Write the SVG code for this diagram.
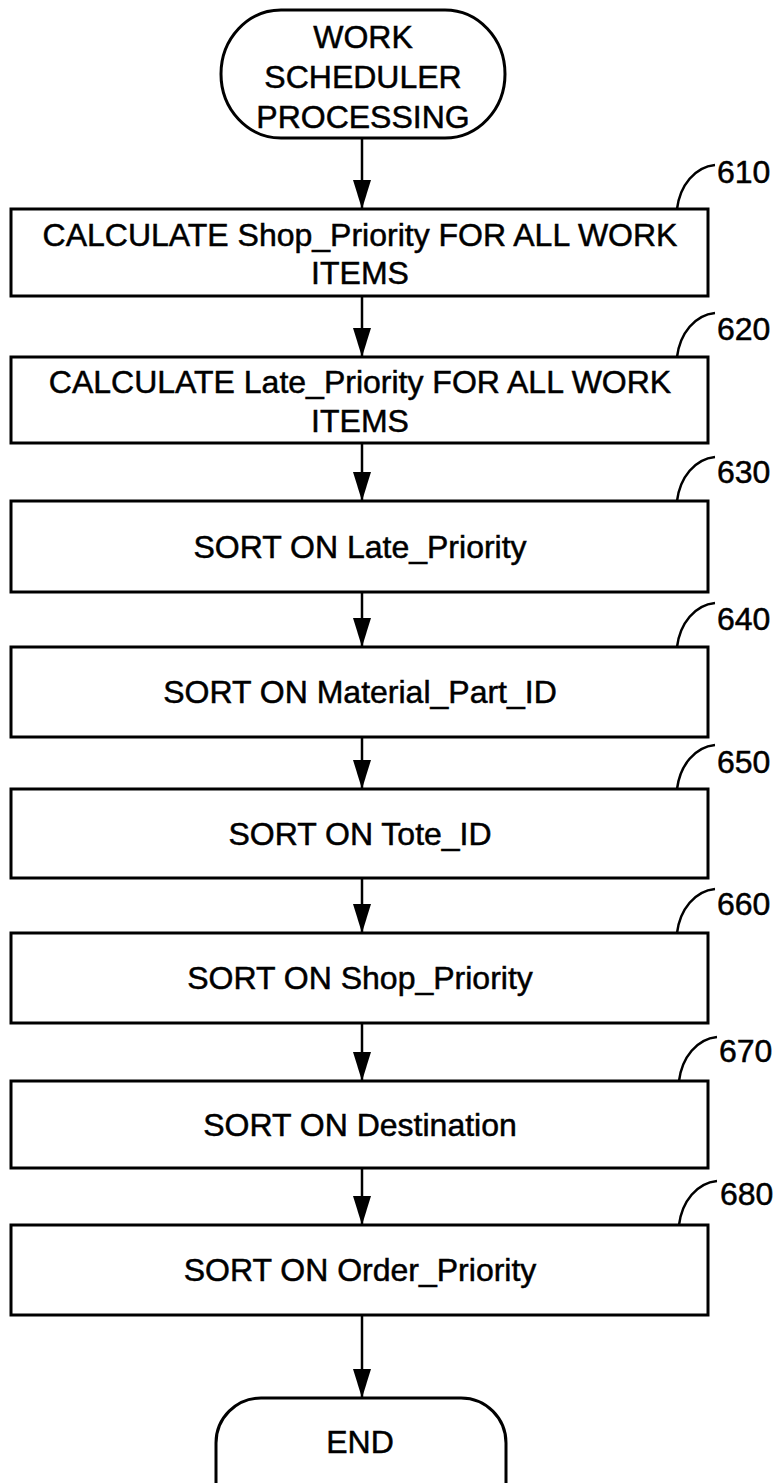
<svg xmlns="http://www.w3.org/2000/svg" width="778" height="1483" viewBox="0 0 778 1483">
<style>
.box{fill:#fff;stroke:#000;stroke-width:3}
.t{font-family:"Liberation Sans",Arial,sans-serif;font-size:32px;fill:#000;stroke:#000;stroke-width:0.5;text-anchor:middle}
.lbl{font-family:"Liberation Sans",Arial,sans-serif;font-size:32px;fill:#000;stroke:#000;stroke-width:0.5}
.ln{fill:none;stroke:#000;stroke-width:2.5}
</style>
<rect width="778" height="1483" fill="#fff"/>
<g id="connectors">
<line class="ln" x1="362" y1="138" x2="362" y2="209"/>
<path d="M353,180 L371,180 L362,209 Z"/>
<line class="ln" x1="362" y1="296" x2="362" y2="357"/>
<path d="M353,328 L371,328 L362,357 Z"/>
<line class="ln" x1="362" y1="443" x2="362" y2="501"/>
<path d="M353,472 L371,472 L362,501 Z"/>
<line class="ln" x1="362" y1="592" x2="362" y2="647"/>
<path d="M353,618 L371,618 L362,647 Z"/>
<line class="ln" x1="362" y1="737" x2="362" y2="789"/>
<path d="M353,760 L371,760 L362,789 Z"/>
<line class="ln" x1="362" y1="878" x2="362" y2="933"/>
<path d="M353,904 L371,904 L362,933 Z"/>
<line class="ln" x1="362" y1="1023" x2="362" y2="1081"/>
<path d="M353,1052 L371,1052 L362,1081 Z"/>
<line class="ln" x1="362" y1="1168" x2="362" y2="1225"/>
<path d="M353,1196 L371,1196 L362,1225 Z"/>
<line class="ln" x1="362" y1="1315" x2="362" y2="1398"/>
<path d="M353,1369 L371,1369 L362,1398 Z"/>
</g>
<g id="start">
<rect class="box" x="221" y="10" width="284" height="128" rx="60" ry="64"/>
<text class="t" x="363" y="48">WORK</text>
<text class="t" x="363" y="88">SCHEDULER</text>
<text class="t" x="363" y="128">PROCESSING</text>
</g>
<g id="n610">
<rect class="box" x="11" y="209" width="697" height="87"/>
<text class="t" x="360" y="246">CALCULATE Shop_Priority FOR ALL WORK</text>
<text class="t" x="360" y="284">ITEMS</text>
<path class="ln" d="M677,209 C680,185 695,167 715,165"/>
<text class="lbl" x="717" y="183">610</text>
</g>
<g id="n620">
<rect class="box" x="11" y="357" width="697" height="86"/>
<text class="t" x="360" y="393">CALCULATE Late_Priority FOR ALL WORK</text>
<text class="t" x="360" y="432">ITEMS</text>
<path class="ln" d="M677,357 C680,333 695,315 715,313"/>
<text class="lbl" x="717" y="340">620</text>
</g>
<g id="n630">
<rect class="box" x="11" y="501" width="697" height="91"/>
<text class="t" x="360" y="558">SORT ON Late_Priority</text>
<path class="ln" d="M677,501 C680,477 695,459 715,457"/>
<text class="lbl" x="717" y="483">630</text>
</g>
<g id="n640">
<rect class="box" x="11" y="647" width="697" height="90"/>
<text class="t" x="360" y="703">SORT ON Material_Part_ID</text>
<path class="ln" d="M677,647 C680,623 695,605 715,603"/>
<text class="lbl" x="717" y="630">640</text>
</g>
<g id="n650">
<rect class="box" x="11" y="789" width="697" height="89"/>
<text class="t" x="360" y="845">SORT ON Tote_ID</text>
<path class="ln" d="M677,789 C680,765 695,747 715,745"/>
<text class="lbl" x="717" y="773">650</text>
</g>
<g id="n660">
<rect class="box" x="11" y="933" width="697" height="90"/>
<text class="t" x="360" y="989">SORT ON Shop_Priority</text>
<path class="ln" d="M677,933 C680,909 695,891 715,889"/>
<text class="lbl" x="717" y="915">660</text>
</g>
<g id="n670">
<rect class="box" x="11" y="1081" width="697" height="87"/>
<text class="t" x="360" y="1136">SORT ON Destination</text>
<path class="ln" d="M679,1081 C682,1057 697,1039 717,1037"/>
<text class="lbl" x="719" y="1062">670</text>
</g>
<g id="n680">
<rect class="box" x="11" y="1225" width="697" height="90"/>
<text class="t" x="360" y="1281">SORT ON Order_Priority</text>
<path class="ln" d="M679,1225 C682,1201 697,1183 717,1181"/>
<text class="lbl" x="720" y="1205">680</text>
</g>
<g id="end">
<rect class="box" x="216" y="1398" width="290" height="150" rx="45" ry="45"/>
<text class="t" x="360" y="1453">END</text>
</g>
</svg>
